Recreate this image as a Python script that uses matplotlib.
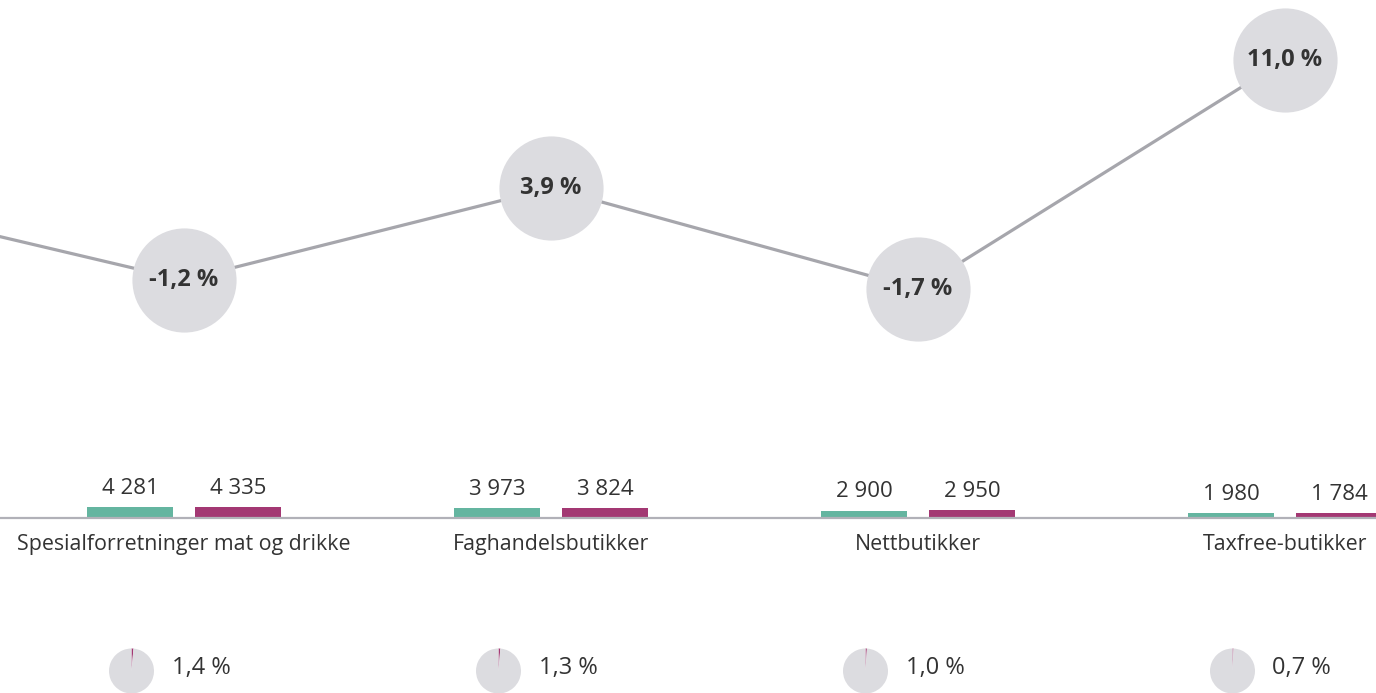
import matplotlib
matplotlib.use("Agg")
import matplotlib.pyplot as plt
import matplotlib.transforms as mtransforms

plt.rcParams['font.family'] = ['Open Sans', 'DejaVu Sans']

categories = ['Spesialforretninger mat og drikke', 'Faghandelsbutikker',
              'Nettbutikker', 'Taxfree-butikker']
prev_change = 3.6          # category left of the visible window
change = [-1.2, 3.9, -1.7, 11.0]
change_labels = ['-1,2 %', '3,9 %', '-1,7 %', '11,0 %']
green_vals = [4281, 3973, 2900, 1980]
purple_vals = [4335, 3824, 2950, 1784]
green_labels = ['4 281', '3 973', '2 900', '1 980']
purple_labels = ['4 335', '3 824', '2 950', '1 784']
share = [1.4, 1.3, 1.0, 0.7]
share_labels = ['1,4 %', '1,3 %', '1,0 %', '0,7 %']

GREEN = '#64b5a0'
PURPLE = '#a33873'
CIRCLE = '#dcdce0'
LINE = '#a6a6ac'
TEXT = '#333333'

W, H = 1376, 693
fig = plt.figure(figsize=(W / 100, H / 100), dpi=100)
xlim = (-184 / 367, (W - 184) / 367)
x = list(range(len(categories)))

# line with circles
ax = fig.add_axes([0, 0, 1, 1])
ax.set_xlim(*xlim)
ax.set_ylim((258.4 - H) / 18.04, 258.4 / 18.04)
ax.axis('off')
ax.plot([-1] + x, [prev_change] + change, color=LINE, lw=2.3, zorder=1,
        solid_capstyle='butt')
ax.scatter(x, change, s=75 ** 2, color=CIRCLE, zorder=2, linewidths=0)
for xi, v, lab in zip(x, change, change_labels):
    ax.text(xi, v, lab, ha='center', va='center', fontsize=17,
            fontweight='bold', color=TEXT, zorder=3)

# bars
axb = fig.add_axes([0, 0, 1, 1])
axb.set_xlim(*xlim)
scale = 0.002558
axb.set_ylim(-(H - 518) / scale, 518 / scale)
axb.axis('off')
off = 54 / 367
bw = 86 / 367
axb.bar([xi - off for xi in x], green_vals, width=bw, color=GREEN, zorder=2)
axb.bar([xi + off for xi in x], purple_vals, width=bw, color=PURPLE, zorder=2)
axb.axhline(0, color='#b1b1b8', lw=1.6, zorder=3)
for xi, gv, pv, gl, pl in zip(x, green_vals, purple_vals, green_labels, purple_labels):
    axb.annotate(gl, (xi - off, gv), xytext=(0, 13.5), textcoords='offset points',
                 ha='center', va='center', fontsize=16, color=TEXT)
    axb.annotate(pl, (xi + off, pv), xytext=(0, 13.5), textcoords='offset points',
                 ha='center', va='center', fontsize=16, color=TEXT)
for xi, cat in zip(x, categories):
    axb.annotate(cat, (xi, 0), xytext=(0, -19), textcoords='offset points',
                 ha='center', va='center', fontsize=15.4, color=TEXT)

# small pies
blend = mtransforms.blended_transform_factory(axb.transData, axb.transAxes)
pw = 45 / 367
ph = 45 / H
pyc = 1 - 671 / H
for xi, s, lab in zip(x, share, share_labels):
    pc = xi - 52.5 / 367
    pax = axb.inset_axes([pc - pw / 2, pyc - ph / 2, pw, ph], transform=blend)
    pax.pie([s, 100 - s], colors=[PURPLE, CIRCLE], startangle=90,
            counterclock=False, radius=1.0,
            wedgeprops=dict(linewidth=0))
    pax.set_xlim(-1, 1)
    pax.set_ylim(-1, 1)
    pax.set_aspect('equal')
    axb.text(pc + 40 / 367, 1 - 668 / H, lab, transform=blend, ha='left',
             va='center', fontsize=17, color=TEXT)

fig.savefig('out.png', dpi=100)
